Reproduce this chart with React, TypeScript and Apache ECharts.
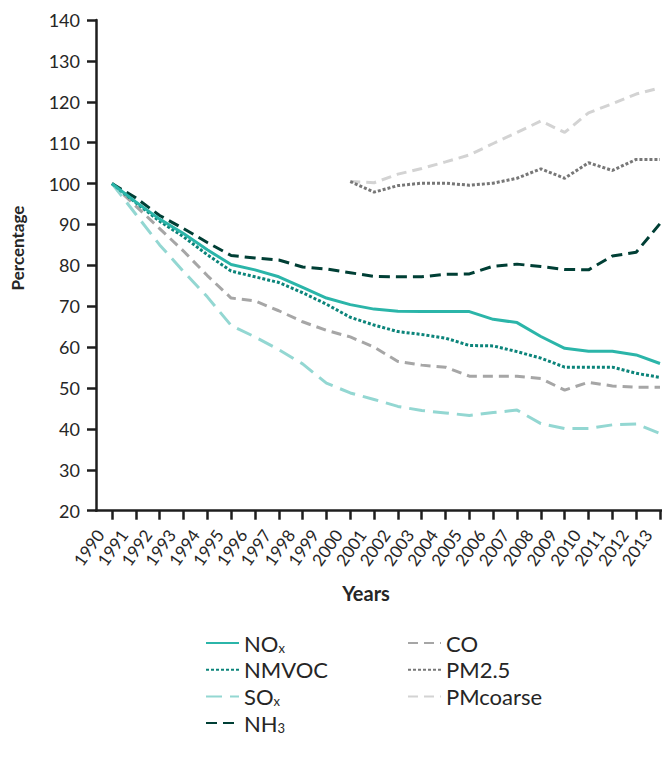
import React, { useEffect, useRef } from "react";
import * as echarts from "echarts";

const years = [1990, 1991, 1992, 1993, 1994, 1995, 1996, 1997, 1998, 1999, 2000, 2001, 2002, 2003, 2004, 2005, 2006, 2007, 2008, 2009, 2010, 2011, 2012, 2013];
const yTicks = [20, 140, 10];

const noxValues = [100, 95.5, 91.3, 87.8, 83.8, 80.2, 78.9, 77.2, 74.6, 72.0, 70.4, 69.3, 68.8, 68.7, 68.7, 68.7, 66.8, 66.0, 62.6, 59.7, 59.0, 59.0, 58.1, 56.0];
const nmvocValues = [100, 95.3, 90.8, 87.0, 82.6, 78.6, 77.2, 75.8, 73.3, 70.5, 67.3, 65.4, 63.8, 63.1, 62.2, 60.4, 60.3, 58.9, 57.3, 55.1, 55.1, 55.1, 53.6, 52.6];
const soxValues = [100, 92.5, 85.0, 78.5, 72.3, 65.3, 62.5, 59.4, 55.9, 51.2, 48.8, 47.2, 45.5, 44.5, 43.9, 43.3, 44.0, 44.6, 41.3, 40.1, 40.1, 41.0, 41.2, 38.9];
const nh3Values = [100, 96.5, 92.2, 89.0, 85.6, 82.4, 81.8, 81.3, 79.6, 79.1, 78.2, 77.3, 77.2, 77.2, 77.8, 77.9, 79.8, 80.3, 79.7, 79.0, 78.9, 82.3, 83.2, 90.2];
const coValues = [100, 94.5, 89.0, 83.5, 77.5, 72.0, 71.3, 68.9, 66.2, 64.1, 62.5, 60.0, 56.5, 55.6, 55.1, 52.9, 52.9, 52.9, 52.3, 49.5, 51.4, 50.5, 50.2, 50.2];
const pmYears = [2000, 2001, 2002, 2003, 2004, 2005, 2006, 2007, 2008, 2009, 2010, 2011, 2012, 2013];
const pm25Values = [100.5, 97.9, 99.5, 100.1, 100.1, 99.6, 100.1, 101.3, 103.6, 101.3, 105.1, 103.2, 105.9, 105.9];
const pmCoarseValues = [100.5, 100.2, 102.3, 103.7, 105.3, 107.0, 109.8, 112.5, 115.3, 112.5, 117.3, 119.5, 121.9, 123.4];

const FONT = "Lato, 'Open Sans', sans-serif";
const TEXT = "#262626";
const AXIS = "#1e1e1e";

const legendLabels: Record<string, string> = {
  NOx: "NO{sub|x}",
  SOx: "SO{sub|x}",
  NH3: "NH{sub|3}",
};

export default function App() {
  const ref = useRef<HTMLDivElement>(null);
  useEffect(() => {
    if (!ref.current) return;
    const chart = echarts.init(ref.current, null, { renderer: "svg" });
    const pair = (xs: number[], vs: number[]) => xs.map((x, i) => [x, vs[i]]);
    const mk = (name: string, xs: number[], vs: number[], color: string, type: any, width = 3) => ({
      name,
      type: "line",
      data: pair(xs, vs),
      symbol: "none",
      showSymbol: false,
      lineStyle: { color, width, type, cap: "butt" },
      itemStyle: { color },
      z: 2,
    });
    const legendCommon = {
      orient: "vertical",
      itemWidth: 33,
      itemHeight: 14,
      itemGap: 4.7,
      itemStyle: { opacity: 0 },
      textStyle: {
        fontFamily: FONT,
        fontSize: 22,
        color: TEXT,
        lineHeight: 22,
        rich: {
          sub: { fontFamily: FONT, fontSize: 13, color: TEXT, verticalAlign: "bottom", lineHeight: 8 },
        },
      },
      formatter: (n: string) => legendLabels[n] || n,
    };
    chart.setOption({
      animation: false,
      backgroundColor: "#ffffff",
      grid: { left: 96, right: 0, top: 20, bottom: 250.3, containLabel: false, outerBoundsMode: "none" },
      xAxis: {
        type: "value",
        min: 1989.329,
        max: 2013.084,
        splitLine: { show: false },
        axisLine: { show: true, onZero: false, lineStyle: { color: AXIS, width: 2.5 } },
        axisTick: { show: true, customValues: years, length: 9, lineStyle: { color: AXIS, width: 2.5 } },
        axisLabel: {
          customValues: years,
          formatter: (v: number) => String(v),
          rotate: 55,
          margin: 29,
          verticalAlign: "bottom",
          padding: [0, 0, 6, 0],
          fontFamily: FONT,
          fontSize: 17,
          color: TEXT,
          hideOverlap: false,
        },
      },
      yAxis: {
        type: "value",
        min: yTicks[0],
        max: yTicks[1],
        interval: yTicks[2],
        splitLine: { show: false },
        axisLine: { show: true, lineStyle: { color: AXIS, width: 2.5 } },
        axisTick: { show: true, length: 9, lineStyle: { color: AXIS, width: 2.5 } },
        axisLabel: { margin: 16, fontFamily: FONT, fontSize: 18, color: TEXT },
      },
      legend: [
        { ...legendCommon, left: 200, top: 627, data: ["NOx", "NMVOC", "SOx", "NH3"] },
        { ...legendCommon, left: 402, top: 627, data: ["CO", "PM2.5", "PMcoarse"] },
      ],
      graphic: [
        {
          type: "text",
          x: 17,
          y: 248,
          rotation: Math.PI / 2,
          style: { text: "Percentage", fontFamily: FONT, fontSize: 17, fontWeight: "bold", fill: TEXT, align: "center", verticalAlign: "middle" },
        },
        {
          type: "text",
          x: 366,
          y: 593,
          style: { text: "Years", fontFamily: FONT, fontSize: 20, fontWeight: "bold", fill: TEXT, align: "center", verticalAlign: "middle" },
        },
      ],
      series: [
        mk("PMcoarse", pmYears, pmCoarseValues, "#d3d3d3", [10, 6]),
        mk("PM2.5", pmYears, pm25Values, "#777777", [3, 2]),
        mk("CO", years, coValues, "#a6a6a6", [10, 6]),
        mk("SOx", years, soxValues, "#93d7d2", [16, 8]),
        mk("NH3", years, nh3Values, "#003f35", [11, 6]),
        mk("NMVOC", years, nmvocValues, "#0b847a", [3, 2]),
        mk("NOx", years, noxValues, "#2bb5a9", "solid"),
      ],
    });
    return () => chart.dispose();
  }, []);
  return <div ref={ref} style={{ position: "absolute", left: 0, top: 0, width: 662, height: 761 }} />;
}
